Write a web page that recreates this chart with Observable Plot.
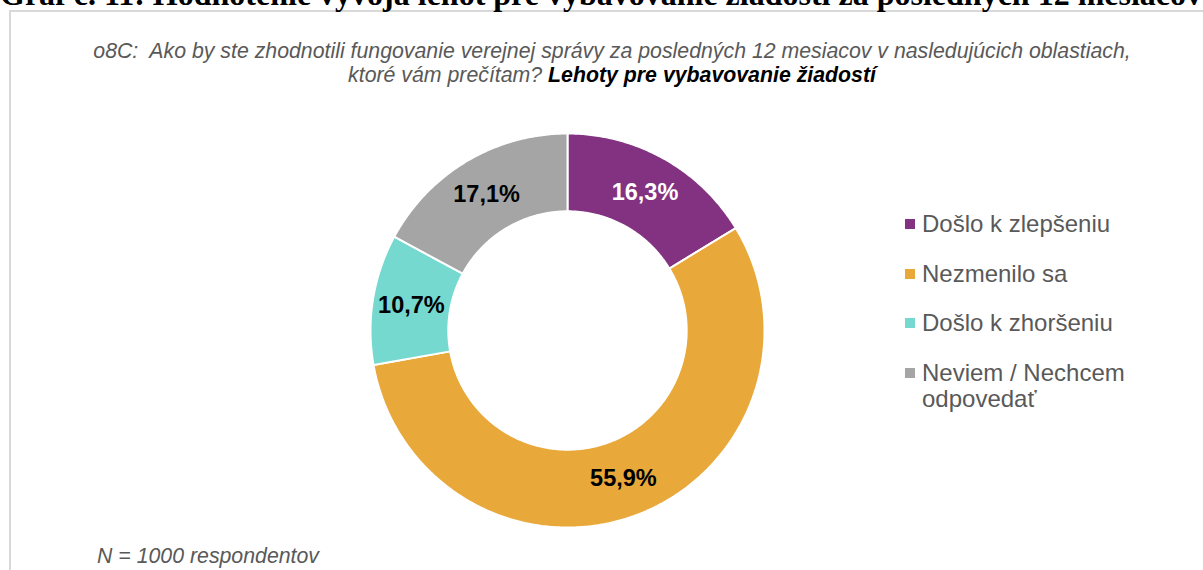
<!DOCTYPE html>
<html>
<head>
<meta charset="utf-8">
<script src="https://cdn.jsdelivr.net/npm/d3@7"></script>
<script src="https://cdn.jsdelivr.net/npm/@observablehq/plot@0.6"></script>
<style>
  html, body { margin: 0; padding: 0; background: #fff; }
  #page { position: relative; width: 1203px; height: 570px; overflow: hidden; font-family: "Liberation Sans", Arial, sans-serif; }
  #title { position: absolute; left: 0; top: -22px; white-space: nowrap; font-family: "Liberation Serif", "Times New Roman", serif; font-weight: bold; font-size: 32px; line-height: 32px; color: #000; }
  #frame { position: absolute; left: 9px; top: 10px; width: 1300px; height: 700px; border: 2px solid #D9D9D9; box-sizing: border-box; }
  #subtitle { position: absolute; left: 0; width: 1224px; top: 39px; text-align: center; font-style: italic; font-size: 21.3px; line-height: 24px; color: #595959; }
  #subtitle b { color: #000; }
  #chart { position: absolute; left: 0; top: 0; }
  .lg { position: absolute; left: 905px; font-size: 24px; line-height: 26px; color: #595959; }
  .lg .sw { position: absolute; left: 0; top: 8px; width: 10px; height: 10px; }
  .lg .tx { position: absolute; left: 17px; top: 0; white-space: nowrap; }
  #note { position: absolute; left: 97px; top: 544px; font-style: italic; font-size: 21.3px; line-height: 24px; color: #595959; white-space: nowrap; }
</style>
</head>
<body>
<div id="page">
  <div id="frame"></div>
  <div id="title"></div>
  <div id="subtitle"></div>
  <div id="chart"></div>
  <div id="legend"></div>
  <div id="note"></div>
</div>
<script>
const titleText = "Graf č. 11: Hodnotenie vývoja lehôt pre vybavovanie žiadostí za posledných 12 mesiacov";
const subtitleLine1 = "o8C:\u00a0 Ako by ste zhodnotili fungovanie verejnej správy za posledných 12 mesiacov v nasledujúcich oblastiach,";
const subtitleLine2a = "ktoré vám prečítam? ";
const subtitleLine2b = "Lehoty pre vybavovanie žiadostí";
const noteText = "N = 1000 respondentov";

const categories = ["Došlo k zlepšeniu", "Nezmenilo sa", "Došlo k zhoršeniu", "Neviem / Nechcem odpovedať"];
const legendLabels = ["Došlo k zlepšeniu", "Nezmenilo sa", "Došlo k zhoršeniu", "Neviem / Nechcem<br>odpovedať"];
const values = [16.3, 55.9, 10.7, 17.1];
const valueLabels = ["16,3%", "55,9%", "10,7%", "17,1%"];
const colors = ["#833281", "#E8A83A", "#76D9CF", "#A5A5A5"];
const labelColors = ["#FFFFFF", "#000000", "#000000", "#000000"];

document.getElementById("title").textContent = titleText;
document.getElementById("subtitle").innerHTML = subtitleLine1 + "<br>" + subtitleLine2a + "<b>" + subtitleLine2b + "</b>";
document.getElementById("note").textContent = noteText;

// Donut geometry derived from the values
const innerRatio = 0.605;
const pie = d3.pie().sort(null).value(d => d)(values);
const ring = [];
pie.forEach((p, i) => {
  const a0 = p.startAngle, a1 = p.endAngle;
  const n = Math.max(8, Math.ceil((a1 - a0) / 0.01));
  const pts = [];
  for (let k = 0; k <= n; k++) { const a = a0 + (a1 - a0) * k / n; pts.push([Math.sin(a), Math.cos(a)]); }
  for (let k = n; k >= 0; k--) { const a = a0 + (a1 - a0) * k / n; pts.push([innerRatio * Math.sin(a), innerRatio * Math.cos(a)]); }
  pts.push(pts[0]);
  pts.forEach(([x, y]) => ring.push({cat: categories[i], x, y}));
});
const mid = (1 + innerRatio) / 2;
const labels = pie.map((p, i) => {
  const a = (p.startAngle + p.endAngle) / 2;
  return {cat: categories[i], label: valueLabels[i], x: mid * Math.sin(a), y: mid * Math.cos(a), c: labelColors[i]};
});

const chart = Plot.plot({
  width: 1203,
  height: 570,
  margin: 0,
  x: {domain: [-1, 1], range: [370, 764], axis: null},
  y: {domain: [-1, 1], range: [527, 133], axis: null},
  color: {domain: categories, range: colors},
  style: {background: "transparent", overflow: "visible"},
  marks: [
    Plot.line(ring, {x: "x", y: "y", z: "cat", fill: "cat", stroke: "#FFFFFF", strokeWidth: 2, strokeLinejoin: "miter", curve: "linear"}),
    Plot.text(labels, {x: "x", y: "y", text: "label", fill: d => d.c, fontSize: 23.5, fontWeight: "bold", fontFamily: "Liberation Sans, Arial, sans-serif", textAnchor: "middle", lineAnchor: "middle"})
  ]
});
document.getElementById("chart").appendChild(chart);

const legend = document.getElementById("legend");
categories.forEach((c, i) => {
  const row = document.createElement("div");
  row.className = "lg";
  row.style.top = (211 + i * 49.6) + "px";
  row.innerHTML = `<div class="sw" style="background:${colors[i]}"></div><div class="tx">${legendLabels[i]}</div>`;
  legend.appendChild(row);
});
</script>
</body>
</html>
